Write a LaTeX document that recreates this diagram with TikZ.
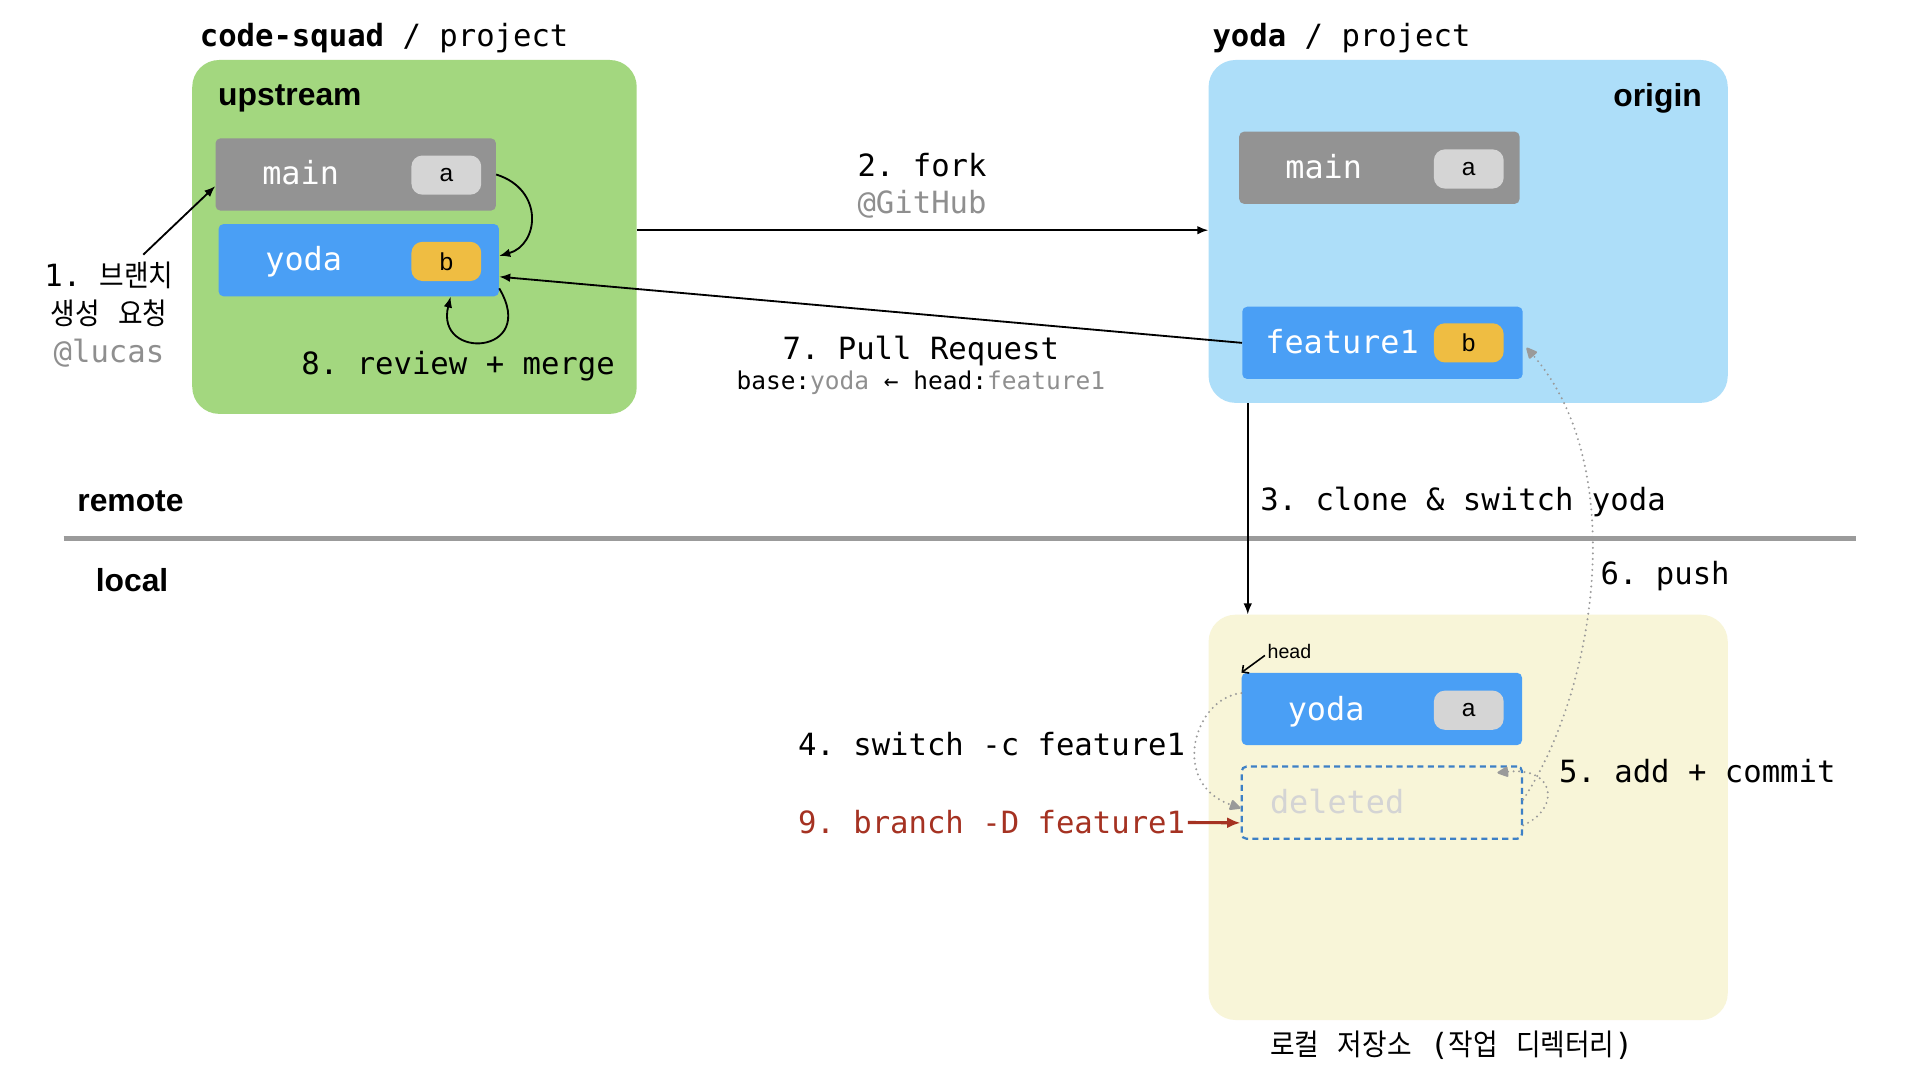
\documentclass[tikz,border=0pt]{standalone}
\usepackage{fontspec}
\usetikzlibrary{arrows.meta}
\newfontfamily\monof{DejaVu Sans Mono}
\newfontfamily\krf[Scale=0.97,FakeStretch=0.9]{Noto Sans CJK KR}
\newfontfamily\sansf{Liberation Sans}
\frenchspacing
\definecolor{grn}{HTML}{A3D77F}
\definecolor{lblue}{HTML}{ADDEF9}
\definecolor{cream}{HTML}{F8F5D8}
\definecolor{bgray}{HTML}{939393}
\definecolor{lgray}{HTML}{D5D5D5}
\definecolor{bblue}{HTML}{4A9FF5}
\definecolor{yel}{HTML}{EFBD42}
\definecolor{txtgray}{HTML}{8F8F8F}
\definecolor{redc}{HTML}{A53222}
\definecolor{dblue}{HTML}{3D80C6}
\definecolor{dotgray}{HTML}{9A9A9A}
\definecolor{divgray}{HTML}{9B9B9B}
\definecolor{delgray}{HTML}{D4D4D4}
\newcommand{\mfs}[1]{\monof\fontsize{#1}{#1}\selectfont\frenchspacing}
\tikzset{
  cont/.style={rounded corners=22pt, inner sep=0pt, draw=none},
  bbox/.style={rounded corners=4pt, inner sep=0pt, minimum width=229pt, minimum height=59pt},
  pill/.style={rounded corners=9pt, inner sep=0pt, minimum width=57pt, minimum height=32pt, font=\sansf\fontsize{20}{20}\selectfont},
  btxt/.style={anchor=base, inner sep=0pt, text=white, font=\mfs{26}},
  mtxt/.style={inner sep=0pt, font=\mfs{25}},
  htxt/.style={inner sep=0pt, font=\sansf\bfseries\fontsize{26}{26}\selectfont},
  arr/.style={line width=1.5pt, -{Latex[length=9pt,width=7pt]}},
  dots/.style={draw=dotgray, line width=1.8pt, line cap=round, dash pattern=on 0pt off 4.5pt,
    -{Triangle[length=10pt,width=9pt,fill=dotgray,round=false]}},
  redarr/.style={draw=redc, line width=2.5pt, -{Latex[length=11pt,width=9pt]}}
}
\begin{document}
\begin{tikzpicture}[x=1pt,y=-1pt]
\useasboundingbox (0,0) rectangle (1568,882);
\fill[white] (0,0) rectangle (1568,882);

% containers
\node[cont, fill=grn, minimum width=363pt, minimum height=289pt] (ups) at (338.5,193.5) {};
\node[cont, fill=lblue, minimum width=424pt, minimum height=280pt] (orig) at (1199,189) {};
\node[cont, fill=cream, minimum width=424pt, minimum height=331pt] (loc) at (1199,667.5) {};

% divider
\draw[line width=4pt, divgray] (52,440) -- (1516,440);

% branch boxes
\node[bbox, fill=bgray] (umain) at (290.5,142.5) {};
\node[bbox, fill=bblue] (uyoda) at (293,212.5) {};
\node[bbox, fill=bgray] (omain) at (1126.5,137) {};
\node[bbox, fill=bblue] (ofeat) at (1129,280) {};
\node[bbox, fill=bblue] (lyoda) at (1128.5,579) {};
\node[bbox, draw=dblue, line width=1.8pt, dash pattern=on 5pt off 3.5pt] (ldel) at (1128.5,655.5) {};

% pills
\node[pill, fill=lgray] (upa) at (364.5,143) {a};
\node[pill, fill=yel] (upb) at (364.5,213.5) {b};
\node[pill, fill=lgray] (opa) at (1199.5,138) {a};
\node[pill, fill=yel] (opb) at (1199.5,280) {b};
\node[pill, fill=lgray] (lpa) at (1199.5,580) {a};

% branch labels
\node[btxt] (umaint) at (245.5,151) {main};
\node[btxt] (uyodat) at (248,221) {yoda};
\node[btxt] (omaint) at (1081,146) {main};
\node[btxt] (ofeatt) at (1096,289) {feature1};
\node[btxt] (lyodat) at (1083,588) {yoda};
\node[btxt, text=delgray] (ldelt) at (1092,664) {deleted};

% titles and headings
\node[mtxt, anchor=base west] (t1) at (163,38) {\bfseries code-squad\mdseries{} / project};
\node[mtxt, anchor=base west] (t2) at (990,38) {\bfseries yoda\mdseries{} / project};
\node[htxt, anchor=base west] (upl) at (178,86) {upstream};
\node[htxt, anchor=base east] (orl) at (1390,87) {origin};
\node[htxt, anchor=base west] (rem) at (63,418) {remote};
\node[htxt, anchor=base west] (locl) at (78,483) {local};

% step labels
\node[mtxt, anchor=base] (l1a) at (89,234) {1. {\krf 브랜치}};
\node[mtxt, anchor=base] (l1b) at (89,265) {{\krf 생성} {\krf 요청}};
\node[mtxt, anchor=base, text=txtgray] (l1c) at (89,296) {@lucas};
\node[mtxt, anchor=base] (l2a) at (753,144) {2. fork};
\node[mtxt, anchor=base, text=txtgray] (l2b) at (753,174) {@GitHub};
\node[mtxt, anchor=base] (l7a) at (752,294) {7. Pull Request};
\node[inner sep=0pt, font=\mfs{20}, anchor=base] (l7b) at (752,318) {base:\textcolor{txtgray}{yoda} ← head:\textcolor{txtgray}{feature1}};
\node[mtxt, anchor=base west] (l8) at (246,306) {8. review + merge};
\node[mtxt, anchor=base west] (l3) at (1029,417) {3. clone \& switch yoda};
\node[mtxt, anchor=base west] (l6) at (1307,477) {6. push};
\node[inner sep=0pt, font=\sansf\fontsize{16}{16}\selectfont, anchor=base west] (headl) at (1035,538) {head};
\node[mtxt, anchor=base east] (l4) at (968,617) {4. switch -c feature1};
\node[mtxt, anchor=base west] (l5) at (1273,639) {5. add + commit};
\node[mtxt, anchor=base east, text=redc] (l9) at (968,681) {9. branch -D feature1};
\node[mtxt, anchor=base] (lroot) at (1185.5,862) {{\krf 로컬} {\krf 저장소} ({\krf 작업} {\krf 디렉터리})};

% connectors
\coordinate (l1s) at (117,208);
\draw[arr] (l1s) -- ([yshift=-9.5pt]umain.west);
\draw[arr] (umain.east) .. controls (445,155) and (440,200) .. ([yshift=3.5pt]uyoda.east);
\draw[arr] ([yshift=-23pt]uyoda.east) .. controls (440,290) and (355,295) .. ([xshift=75pt]uyoda.south);
\draw[arr] ([yshift=5.5pt]ups.east) -- ([yshift=1pt]orig.west);
\draw[arr] (ofeat.west) -- ([yshift=-13.5pt]uyoda.east);
\coordinate (clx) at (1019,0);
\draw[arr] (orig.south -| clx) -- (loc.north -| clx);
\draw[line width=1.3pt, -{Straight Barb[length=4pt,width=8pt]}] ([xshift=-2pt,yshift=-3pt]headl.west) -- (lyoda.north west);
\draw[dots] ([yshift=13pt]lyoda.west) .. controls (975,570) and (955,640) .. ([yshift=-4.5pt]ldel.west);
\draw[dots] ([yshift=-18.5pt]ldel.east) .. controls (1275,660) and (1270,626) .. ([xshift=-21pt,yshift=-6pt]ldel.north east);
\draw[dots] ([yshift=2.5pt]ldel.east) .. controls (1305,560) and (1330,380) .. ([xshift=3pt,yshift=-4pt]ofeat.east);
\draw[redarr] ([xshift=2pt]l9.east) -- ([yshift=-16.5pt]ldel.west);
\end{tikzpicture}
\end{document}
